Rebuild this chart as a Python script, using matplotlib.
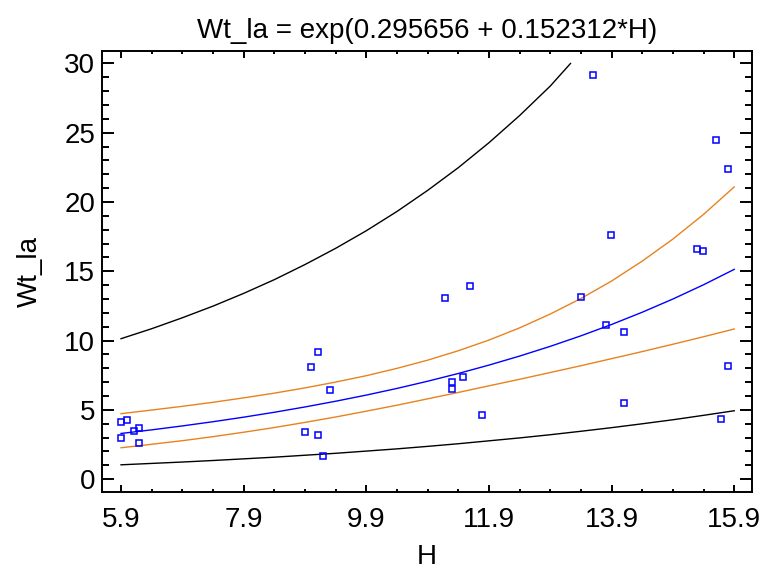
import matplotlib
matplotlib.use("Agg")
import matplotlib.pyplot as plt
from matplotlib.ticker import MultipleLocator, FixedLocator

plt.rcParams['font.family'] = ['Liberation Sans', 'DejaVu Sans']

# observed points
h_obs = [5.90, 6.00, 6.11, 6.19, 5.90, 6.19,
         8.90, 9.11, 9.20, 9.11, 9.00, 9.30,
         11.19, 11.59, 11.29, 11.29, 11.48, 11.78,
         13.59, 13.89, 13.40, 13.81, 14.11, 14.11,
         15.60, 15.80, 15.30, 15.39, 15.80, 15.69]
wt_obs = [4.13, 4.26, 3.48, 3.68, 2.94, 2.58,
          3.39, 3.22, 1.68, 9.19, 8.13, 6.44,
          13.08, 13.92, 7.00, 6.52, 7.38, 4.64,
          29.20, 17.63, 13.15, 11.16, 10.60, 5.50,
          24.46, 22.37, 16.59, 16.50, 8.15, 4.35]

# curves read along H
h_line = [5.9, 6.4, 6.9, 7.4, 7.9, 8.4, 8.9, 9.4, 9.9, 10.4, 10.9,
          11.4, 11.9, 12.4, 12.9, 13.4, 13.9, 14.4, 14.9, 15.4, 15.9]
fit = [3.301, 3.562, 3.845, 4.149, 4.477, 4.831, 5.214, 5.627, 6.071, 6.551, 7.070,
       7.629, 8.234, 8.886, 9.588, 10.347, 11.166, 12.050, 13.003, 14.032, 15.142]
conf_hi = [4.73, 4.99, 5.26, 5.55, 5.87, 6.21, 6.59, 7.01, 7.47, 8.00, 8.59,
           9.27, 10.04, 10.92, 11.92, 13.04, 14.30, 15.74, 17.33, 19.11, 21.09]
conf_lo = [2.27, 2.52, 2.78, 3.07, 3.39, 3.73, 4.10, 4.49, 4.91, 5.34, 5.80,
           6.26, 6.74, 7.21, 7.70, 8.19, 8.70, 9.21, 9.74, 10.28, 10.84]
pred_lo = [1.04, 1.14, 1.24, 1.35, 1.47, 1.59, 1.73, 1.87, 2.03, 2.19, 2.37,
           2.56, 2.77, 2.98, 3.21, 3.46, 3.72, 4.00, 4.29, 4.61, 4.94]
h_pred_hi = [5.9, 6.4, 6.9, 7.4, 7.9, 8.4, 8.9, 9.4, 9.9, 10.4, 10.9,
             11.4, 11.9, 12.4, 12.9, 13.23]
pred_hi = [10.14, 10.86, 11.65, 12.49, 13.41, 14.40, 15.49, 16.66, 17.93, 19.32, 20.84,
           22.48, 24.28, 26.24, 28.37, 30.0]

fig = plt.figure(figsize=(7.63, 5.71), dpi=100)
ax = fig.add_axes([0.1337, 0.1389, 0.8519, 0.7718])

orange = '#e8821e'
ax.plot(h_pred_hi, pred_hi, color='black', lw=1.0)
ax.plot(h_line, pred_lo, color='black', lw=1.0)
ax.plot(h_line, conf_hi, color=orange, lw=1.0)
ax.plot(h_line, conf_lo, color=orange, lw=1.0)
ax.plot(h_line, fit, color='#0000ff', lw=1.0)
ax.plot(h_obs, wt_obs, 's', mfc='none', mec='#0000ff', ms=4.5, mew=1.1)

ax.set_xlim(5.59, 16.19)
ax.set_ylim(-0.9, 30.9)
ax.xaxis.set_major_locator(FixedLocator([5.9, 7.9, 9.9, 11.9, 13.9, 15.9]))
ax.xaxis.set_minor_locator(FixedLocator([6.4 + 0.5 * i for i in range(20) if (i + 1) % 4 != 0]))
ax.set_xticklabels(['5.9', '7.9', '9.9', '11.9', '13.9', '15.9'])
ax.yaxis.set_major_locator(MultipleLocator(5))
ax.yaxis.set_minor_locator(MultipleLocator(1))

for s in ax.spines.values():
    s.set_linewidth(1.4)
ax.tick_params(axis='x', which='major', direction='in', length=5, width=1.4,
               top=True, labelsize=20, pad=11)
ax.tick_params(axis='x', which='minor', direction='in', length=2.5, width=1.4, top=True)
ax.tick_params(axis='y', which='major', direction='in', length=8.5, width=1.4,
               right=True, labelsize=20, pad=5)
ax.tick_params(axis='y', which='minor', direction='in', length=5, width=1.4, right=True)

ax.set_title('Wt_la = exp(0.295656 + 0.152312*H)', fontsize=20, pad=9)
ax.set_xlabel('H', fontsize=20, labelpad=8)
ax.set_ylabel('Wt_la', fontsize=20, labelpad=15)

fig.savefig('out.png', dpi=100)
